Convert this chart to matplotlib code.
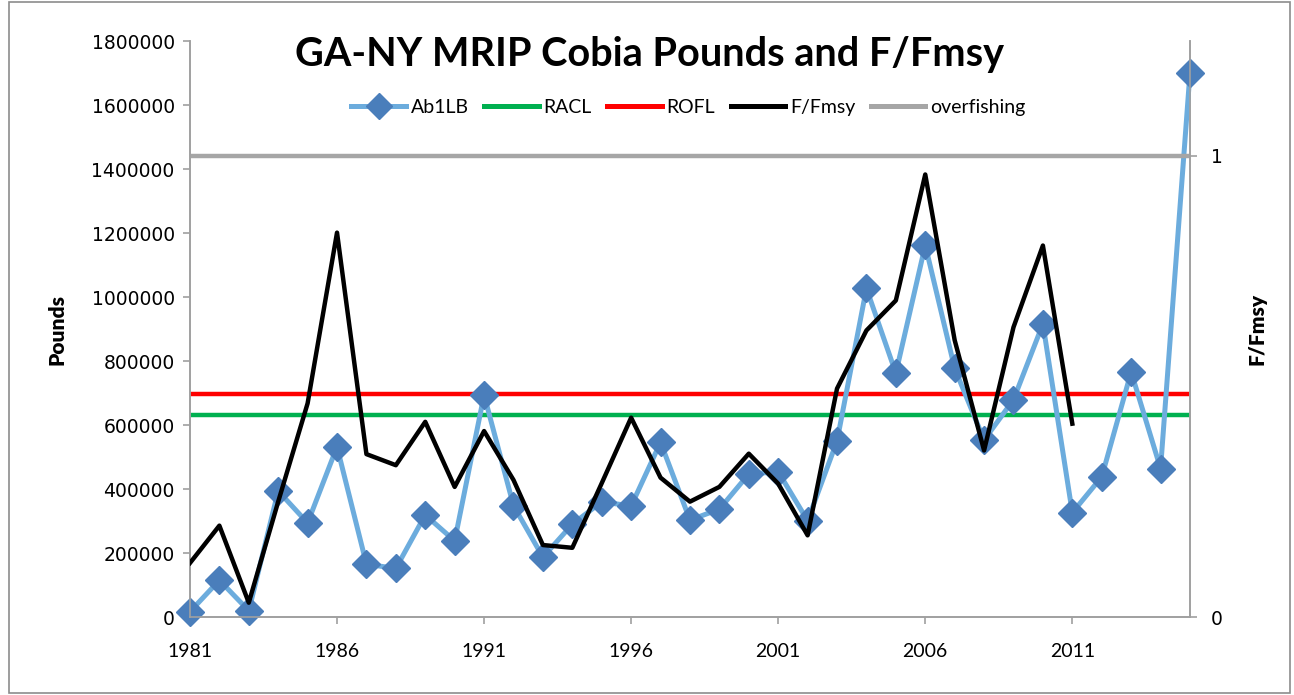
import matplotlib
matplotlib.use("Agg")
import matplotlib.pyplot as plt
from matplotlib.lines import Line2D
from matplotlib.patches import Rectangle

years = list(range(1981, 2016))
ab1lb = [16500, 115000, 19700, 394000, 294000, 532000, 165000, 152000, 319000, 238000,
         694000, 348000, 187000, 290000, 360000, 347000, 546000, 303000, 337000, 447000,
         454000, 301000, 550000, 1027000, 762000, 1162000, 777000, 553000, 679000, 916000,
         326000, 438000, 766000, 464000, 1700000]
f_years = list(range(1981, 2012))
f_fmsy = [0.117, 0.198, 0.031, 0.25, 0.463, 0.833, 0.353, 0.329, 0.423, 0.282,
          0.403, 0.297, 0.156, 0.150, 0.29, 0.432, 0.302, 0.250, 0.282, 0.354,
          0.289, 0.177, 0.495, 0.621, 0.686, 0.959, 0.600, 0.361, 0.628, 0.805,
          0.419]
racl_value = 630000
rofl_value = 696000
overfishing_value = 1.0
racl = [racl_value] * len(years)
rofl = [rofl_value] * len(years)
overfishing = [overfishing_value] * len(years)

title = "GA-NY MRIP Cobia Pounds and F/Fmsy"
left_ticks = list(range(0, 1800001, 200000))
right_ticks = [0, 1]
x_ticks = list(range(1981, 2012, 5))

blue_line = "#6CACDD"
blue_marker = "#4A7EBB"
green = "#00B050"
red = "#FF0000"
gray = "#A6A6A6"
axis_gray = "#A0A0A0"

fig = plt.figure(figsize=(12.94, 6.95), dpi=100)
fig.patches.append(Rectangle((0.007, 0.003), 0.99, 0.994, transform=fig.transFigure,
                             fill=False, edgecolor="#8C8C8C", linewidth=1.2))
ax = fig.add_axes([0.1468, 0.1122, 0.7728, 0.8288])
ax2 = ax.twinx()

ax.plot(years, ab1lb, color=blue_line, lw=3.6, marker="D", ms=14.5,
        markerfacecolor=blue_marker, markeredgecolor=blue_marker, zorder=3,
        clip_on=False)
ax.plot(years, racl, color=green, lw=3.2, zorder=2)
ax.plot(years, rofl, color=red, lw=3.2, zorder=2)
ax2.plot(f_years, f_fmsy, color="black", lw=3.2, zorder=3)
ax2.plot(years, overfishing, color=gray, lw=3.2, zorder=2)

ax.set_xlim(1981, 2015)
ax.set_ylim(0, 1800000)
ax2.set_ylim(0, 1800000 / 1442000)

ax.set_xticks(x_ticks)
ax.set_xticklabels([str(y) for y in x_ticks], fontsize=14, family="Lato")
ax.set_yticks(left_ticks)
ax.set_yticklabels([str(v) for v in left_ticks], fontsize=13.5, family="DejaVu Sans")
ax2.set_yticks(right_ticks)
ax2.set_yticklabels([str(v) for v in right_ticks], fontsize=13.5, family="DejaVu Sans")

for a in (ax, ax2):
    for s in a.spines.values():
        s.set_color(axis_gray)
        s.set_linewidth(1.2)
    a.spines["top"].set_visible(False)
    a.tick_params(colors=axis_gray, labelcolor="black", length=5, width=1.2)
ax.tick_params(axis="x", pad=14)
ax.tick_params(axis="y", pad=6)
ax2.tick_params(axis="y", pad=10)

ax.set_ylabel("Pounds", fontsize=15, fontweight="heavy", family="Lato", labelpad=18)
ax2.set_ylabel("F/Fmsy", fontsize=15, fontweight="heavy", family="Lato", labelpad=18,
               rotation=90)

fig.text(0.502, 0.921, title, ha="center", va="center", fontsize=28.5,
         fontweight="bold", family="Lato")

handles = [
    Line2D([], [], color=blue_line, lw=3.6, marker="D", ms=13,
           markerfacecolor=blue_marker, markeredgecolor=blue_marker),
    Line2D([], [], color=green, lw=3.6),
    Line2D([], [], color=red, lw=3.6),
    Line2D([], [], color="black", lw=3.6),
    Line2D([], [], color=gray, lw=3.6),
]
labels = ["Ab1LB", "RACL", "ROFL", "F/Fmsy", "overfishing"]
fig.legend(handles, labels, loc="center", bbox_to_anchor=(0.532, 0.845), ncol=5,
           frameon=False, prop={"family": "Lato", "size": 14}, handlelength=2.8,
           handletextpad=0.25, columnspacing=0.8)

fig.savefig("out.png", dpi=100)
